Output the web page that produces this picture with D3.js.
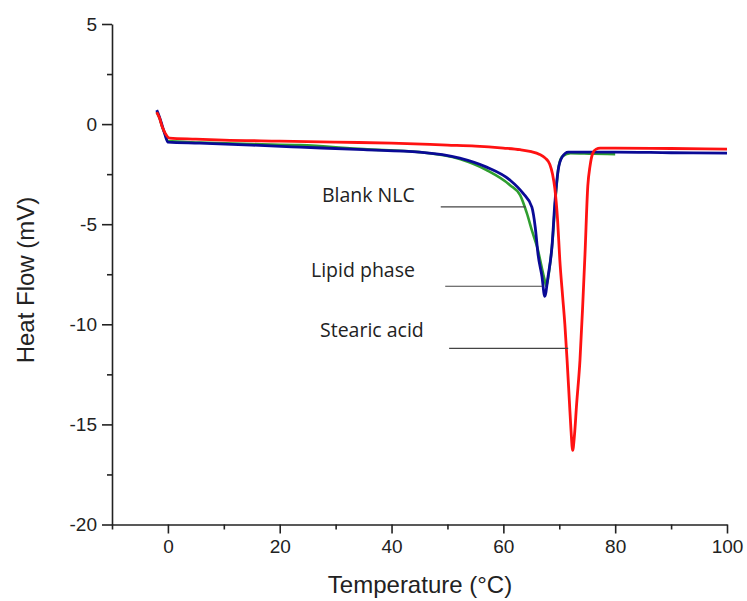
<!DOCTYPE html>
<html>
<head>
<meta charset="utf-8">
<script src="https://cdn.jsdelivr.net/npm/d3@7"></script>
<style>
  body { margin: 0; background: #fff; }
  svg { display: block; }
</style>
</head>
<body>
<div id="chart"></div>
<script>
// DSC curves: [temperature °C, heat flow mV]
const stearicAcid = [
  [-2.0, 0.6], [-1.5, 0.3], [-1.0, -0.15], [-0.5, -0.45], [0.3, -0.7], [5, -0.75],
  [10, -0.8], [20, -0.85], [30, -0.9], [40, -0.95], [50, -1.05], [55, -1.1],
  [60, -1.2], [63, -1.28], [65, -1.38], [66.4, -1.5], [67.5, -1.7], [68.3, -2.0],
  [68.8, -2.5], [69.2, -3.2], [69.7, -4.8], [70.1, -6.8], [70.6, -8.6], [71.0, -10],
  [71.4, -11.8], [71.8, -13.8], [72.1, -15.3], [72.4, -16.3], [72.7, -15.6],
  [73.1, -14], [73.7, -11.8], [74.2, -9], [74.6, -6.5], [75.1, -3.1], [75.5, -2.1],
  [76.0, -1.45], [76.6, -1.25], [77.3, -1.2], [80, -1.2], [90, -1.22], [100, -1.25]
];
const lipidPhase = [
  [-2.0, 0.7], [-1.5, 0.35], [-1.0, -0.1], [-0.5, -0.55], [0, -0.9], [5.7, -0.95],
  [15, -1.05], [23.6, -1.15], [35, -1.28], [45, -1.4], [52.2, -1.7], [57, -2.15],
  [61.2, -2.8], [63.5, -3.45], [65.1, -4.15], [65.7, -5.15], [66.2, -6.5],
  [66.9, -7.6], [67.4, -8.6], [68.0, -7.6], [68.7, -6.1], [69.2, -4.0], [69.8, -2.3],
  [70.5, -1.65], [71.6, -1.4], [80, -1.4], [90, -1.43], [100, -1.45]
];
const blankNLC = [
  [-2.0, 0.6], [-1.5, 0.3], [-1.0, -0.15], [-0.5, -0.5], [0, -0.85], [5.7, -0.92],
  [15, -1.0], [23.6, -1.05], [35, -1.25], [45, -1.4], [52.2, -1.75], [57, -2.3],
  [61.2, -3.05], [63, -3.55], [64.2, -4.45], [65.2, -5.4], [66, -6.1],
  [67.4, -7.8], [67.7, -8.1], [68.2, -7.3], [68.8, -5.8], [69.3, -3.8], [69.9, -2.1],
  [70.6, -1.6], [72, -1.45], [76, -1.48], [80, -1.5]
];

const seriesList = [
  { name: 'Blank NLC', values: blankNLC, color: '#2f9e2f', width: 2.6 },
  { name: 'Lipid phase', values: lipidPhase, color: '#0a0a96', width: 2.8 },
  { name: 'Stearic acid', values: stearicAcid, color: '#ff1212', width: 2.8 }
];

// annotation text and leader line [label, textX, textY, lineStartT, lineEndT, lineH]
const labels = [
  ['Blank NLC', 322, 202, 48.8, 64.0, -4.13],
  ['Lipid phase', 311, 277, 49.6, 66.9, -8.1],
  ['Stearic acid', 320, 337, 50.3, 71.6, -11.2]
];

const xMajor = [0, 20, 40, 60, 80, 100];
const xMinor = [-10, 10, 30, 50, 70, 90];
const yMajor = [5, 0, -5, -10, -15, -20];
const yMinor = [2.5, -2.5, -7.5, -12.5, -17.5];

const width = 747, height = 601;
const x = d3.scaleLinear().domain([-10, 100]).range([112, 727]);
const y = d3.scaleLinear().domain([-20, 5]).range([524.5, 24]);

const svg = d3.select('#chart').append('svg')
  .attr('width', width)
  .attr('height', height);

// curves
const line = d3.line()
  .x(d => x(d[0]))
  .y(d => y(d[1]))
  .curve(d3.curveMonotoneX);

svg.selectAll('path.curve')
  .data(seriesList)
  .enter()
  .append('path')
  .attr('class', 'curve')
  .attr('d', d => line(d.values))
  .attr('fill', 'none')
  .attr('stroke', d => d.color)
  .attr('stroke-width', d => d.width)
  .attr('stroke-linejoin', 'round');

// axes (plain hyphen for negatives, as in the source figure)
const plain = d => String(d);
const axisColor = '#222';
svg.append('g')
  .attr('transform', `translate(0,${y(-20)})`)
  .call(d3.axisBottom(x).tickValues(xMajor).tickFormat(plain).tickSize(9).tickSizeOuter(0).tickPadding(6));
svg.append('g')
  .attr('transform', `translate(0,${y(-20)})`)
  .call(d3.axisBottom(x).tickValues(xMinor).tickSize(5).tickFormat('').tickSizeOuter(0))
  .select('.domain').remove();

svg.append('g')
  .attr('transform', `translate(${x(-10)},0)`)
  .call(d3.axisLeft(y).tickValues(yMajor).tickFormat(plain).tickSize(10).tickSizeOuter(0).tickPadding(5));
svg.append('g')
  .attr('transform', `translate(${x(-10)},0)`)
  .call(d3.axisLeft(y).tickValues(yMinor).tickSize(5).tickFormat('').tickSizeOuter(0))
  .select('.domain').remove();

svg.selectAll('.domain').attr('stroke', axisColor).attr('stroke-width', 1.6);
svg.selectAll('.tick line').attr('stroke', axisColor).attr('stroke-width', 1.6);
svg.selectAll('.tick text')
  .attr('fill', '#222')
  .style('font-family', '"Liberation Sans", Arial, sans-serif')
  .style('font-size', '19px');

// axis titles
svg.append('text')
  .attr('x', 420)
  .attr('y', 593)
  .attr('text-anchor', 'middle')
  .attr('fill', '#222')
  .style('font-family', '"Liberation Sans", Arial, sans-serif')
  .style('font-size', '24px')
  .text('Temperature (°C)');

svg.append('text')
  .attr('transform', 'translate(34,280) rotate(-90)')
  .attr('text-anchor', 'middle')
  .attr('fill', '#222')
  .style('font-family', '"Liberation Sans", Arial, sans-serif')
  .style('font-size', '24px')
  .text('Heat Flow (mV)');

// annotations
svg.selectAll('line.leader')
  .data(labels)
  .enter()
  .append('line')
  .attr('class', 'leader')
  .attr('x1', d => x(d[3]))
  .attr('x2', d => x(d[4]))
  .attr('y1', d => y(d[5]))
  .attr('y2', d => y(d[5]))
  .attr('stroke', '#444')
  .attr('stroke-width', 1.2);

svg.selectAll('text.note')
  .data(labels)
  .enter()
  .append('text')
  .attr('class', 'note')
  .attr('x', d => d[1])
  .attr('y', d => d[2])
  .attr('fill', '#222')
  .style('font-family', '"Open Sans", sans-serif')
  .style('font-size', '19.5px')
  .text(d => d[0]);
</script>
</body>
</html>
